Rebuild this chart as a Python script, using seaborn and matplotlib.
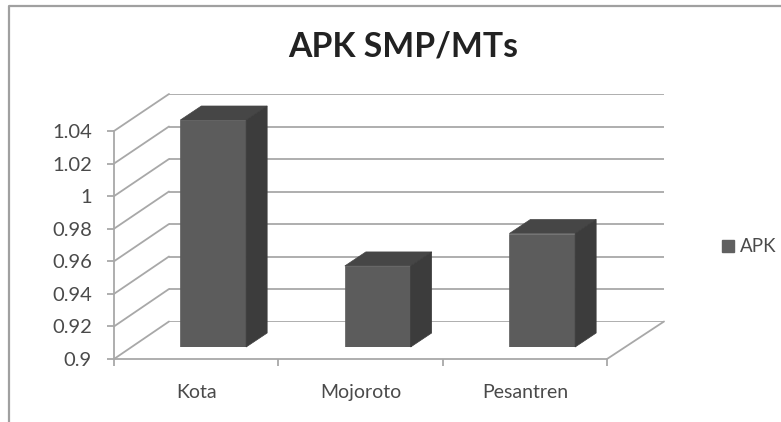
import matplotlib
matplotlib.use("Agg")
import matplotlib.pyplot as plt
from matplotlib.lines import Line2D
from matplotlib.patches import ConnectionPatch, Polygon
import pandas as pd
import seaborn as sns

categories = ["Kota", "Mojoroto", "Pesantren"]
apk_values = [1.04, 0.95, 0.97]
y_ticks = [0.9, 0.92, 0.94, 0.96, 0.98, 1, 1.02, 1.04]
y_tick_labels = ["0.9", "0.92", "0.94", "0.96", "0.98", "1", "1.02", "1.04"]

W, H = 781, 422
LINE = "#a8a8a8"
TEXT = "#4a4a4a"
FRONT = "#5c5c5c"
TOP = "#464646"
SIDE = "#3c3c3c"

sns.set_theme(style="white")
plt.rcParams["font.family"] = ["Lato", "DejaVu Sans"]


def add_axes_px(fig, x0, x1, y_top, y_bottom):
    # positions given in picture pixels, y counted from the top
    return fig.add_axes([x0 / W, 1 - y_bottom / H, (x1 - x0) / W, (y_bottom - y_top) / H])


fig = plt.figure(figsize=(W / 100, H / 100), dpi=100, facecolor="white")

# outer chart frame, only top and left are visible
fig.add_artist(Line2D([9 / W, 9 / W, 1], [0, 1 - 6 / H, 1 - 6 / H], color="#a0a0a0", lw=1.6))

# back wall with the gridlines
ax_wall = add_axes_px(fig, 169, 664, 94, 321.5)
ax_wall.set_xlim(0, 3)
ax_wall.set_ylim(0.9, 1.04)
ax_wall.set_yticks(y_ticks)
ax_wall.set_xticks([])
ax_wall.tick_params(left=False, labelleft=False)
ax_wall.grid(True, axis="y", color=LINE, lw=1.3)
sns.despine(ax=ax_wall, left=True, bottom=True)
ax_wall.patch.set_alpha(0)

# front axis with ticks and labels
ax_front = add_axes_px(fig, 114, 607, 131, 359)
ax_front.set_xlim(0, 3)
ax_front.set_ylim(0.9, 1.04)
ax_front.patch.set_alpha(0)
ax_front.set_yticks(y_ticks)
ax_front.set_yticklabels(y_tick_labels)
ax_front.set_xticks([0, 1, 2, 3])
ax_front.set_xticklabels([])
ax_front.set_xticks([0.5, 1.5, 2.5], minor=True)
ax_front.set_xticklabels(categories, minor=True)
ax_front.tick_params(axis="y", left=True, length=5, width=1.3, color=LINE, labelsize=14.5,
                     labelcolor=TEXT, pad=11)
ax_front.tick_params(axis="x", which="major", bottom=True, length=5, width=1.3, color=LINE)
ax_front.tick_params(axis="x", which="minor", bottom=False, labelsize=14, labelcolor=TEXT, pad=14)
sns.despine(ax=ax_front, top=True, right=True)
for side in ["left", "bottom"]:
    ax_front.spines[side].set_color(LINE)
    ax_front.spines[side].set_linewidth(1.3)

# diagonals joining the front axis and the wall
for val in y_ticks:
    fig.add_artist(ConnectionPatch((0, val), (0, val), "data", "data", axesA=ax_front, axesB=ax_wall,
                                   color=LINE, lw=1.3))
fig.add_artist(ConnectionPatch((3, 0.9), (3, 0.9), "data", "data", axesA=ax_front, axesB=ax_wall,
                               color=LINE, lw=1.3))

# bars
ax_bar = add_axes_px(fig, 131, 624.5, 120, 347)
ax_bar.patch.set_alpha(0)
df = pd.DataFrame({"wilayah": categories, "APK": apk_values})
sns.barplot(data=df, x="wilayah", y="APK", color=FRONT, saturation=1, width=0.4, label="APK",
            ax=ax_bar, legend=False, zorder=3, edgecolor=FRONT, linewidth=0.5)
ax_bar.set_xlim(-0.5, 2.5)
ax_bar.set_ylim(0.9, 1.04)
ax_bar.axis("off")

# depth of the bars, in data units of ax_bar
dx = 21 / 164.5
dy = 14 / (227 / 0.14)
base = ax_bar.get_ylim()[0]
for bar in list(ax_bar.patches):
    x0 = bar.get_x()
    x1 = x0 + bar.get_width()
    top = bar.get_height()
    ax_bar.add_patch(Polygon([(x0, top), (x1, top), (x1 + dx, top + dy), (x0 + dx, top + dy)],
                             facecolor=TOP, edgecolor=TOP, lw=0.5, clip_on=False, zorder=3))
    ax_bar.add_patch(Polygon([(x1, base), (x1 + dx, base + dy), (x1 + dx, top + dy), (x1, top)],
                             facecolor=SIDE, edgecolor=SIDE, lw=0.5, clip_on=False, zorder=3))

handle = Line2D([], [], marker="s", ls="none", color="#606060", markersize=8)
fig.legend([handle], ["APK"], loc="center left", bbox_to_anchor=(720 / W, 1 - 247 / H), frameon=False,
           fontsize=13.5, labelcolor=TEXT, handlelength=0.9, handletextpad=0.15, borderpad=0, borderaxespad=0)

fig.text(403 / W, 1 - 47 / H, "APK SMP/MTs", ha="center", va="center", fontsize=24.3, fontweight="bold",
         color="#222222")

fig.savefig("out.png", dpi=100)
